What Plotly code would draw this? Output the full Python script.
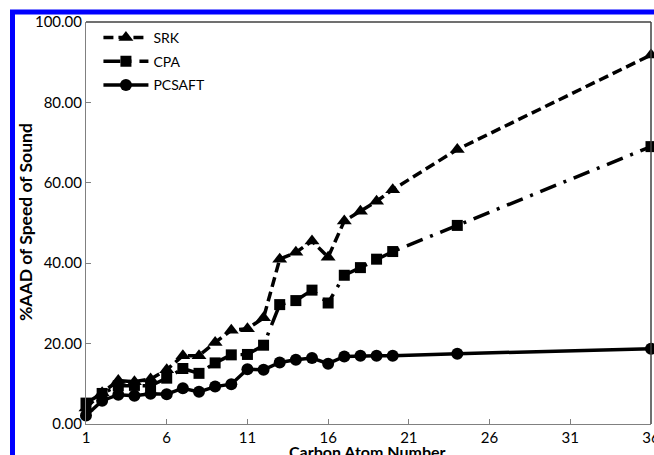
import plotly.graph_objects as go

carbon = [1, 2, 3, 4, 5, 6, 7, 8, 9, 10, 11, 12, 13, 14, 15, 16, 17, 18, 19, 20, 24, 36]
srk = [4.0, 7.8, 10.8, 10.5, 11.2, 13.5, 17.0, 17.0, 20.3, 23.3, 23.7, 26.4, 41.0, 42.7, 45.5, 41.5, 50.5, 52.9, 55.4, 58.3, 68.3, 91.8]
cpa = [5.2, 7.6, 9.5, 9.6, 9.5, 11.4, 13.8, 12.6, 15.2, 17.2, 17.3, 19.6, 29.7, 30.7, 33.3, 30.1, 37.0, 38.9, 41.0, 42.9, 49.4, 69.0]
pcsaft = [2.1, 5.8, 7.3, 7.0, 7.5, 7.4, 8.9, 8.0, 9.3, 9.9, 13.6, 13.5, 15.3, 16.0, 16.4, 15.0, 16.8, 17.0, 17.0, 17.0, 17.5, 18.7]

xticks = [1, 6, 11, 16, 21, 26, 31, 36]
yticks = [0, 20, 40, 60, 80, 100]

FONT = "Lato"

fig = go.Figure()
fig.add_trace(go.Scatter(x=carbon, y=srk, name="SRK", mode="lines+markers", legendgroup="a",
                         line=dict(color="black", width=3.5, dash="10px,5px"),
                         marker=dict(symbol="triangle-up", size=13, color="black"),
                         cliponaxis=False))
fig.add_trace(go.Scatter(x=carbon, y=cpa, name="CPA", mode="lines+markers", legendgroup="b",
                         line=dict(color="black", width=3.5, dash="17px,8px,3px,8px"),
                         marker=dict(symbol="square", size=11, color="black"),
                         cliponaxis=False))
fig.add_trace(go.Scatter(x=carbon, y=pcsaft, name="PCSAFT", mode="lines+markers", legendgroup="c",
                         line=dict(color="black", width=3.5),
                         marker=dict(symbol="circle", size=12, color="black"),
                         cliponaxis=False))

fig.update_layout(
    width=654, height=455,
    margin=dict(l=86, r=3, t=22, b=31),
    paper_bgcolor="white", plot_bgcolor="white",
    font=dict(family=FONT, size=15, color="black"),
    showlegend=True,
    legend=dict(x=0.022, y=1.0, xanchor="left", yanchor="top",
                bgcolor="rgba(0,0,0,0)", font=dict(size=14, family=FONT),
                itemwidth=45, tracegroupgap=2.5),
    xaxis=dict(range=[1, 36], tickvals=xticks, ticktext=[str(v) for v in xticks],
               showgrid=False, zeroline=False, showline=True, linecolor="#808080",
               linewidth=1, ticks="inside", ticklen=5, tickcolor="#808080",
               mirror=False, tickfont=dict(size=15), automargin=False,
               ticklabeloverflow="allow"),
    yaxis=dict(range=[0, 100], tickvals=yticks, ticktext=["%.2f" % v for v in yticks],
               showgrid=False, zeroline=False, showline=True, linecolor="#808080",
               linewidth=1, ticks="inside", ticklen=5, tickcolor="#808080",
               tickfont=dict(size=15), automargin=False, ticklabeloverflow="allow"),
    shapes=[
        dict(type="line", xref="paper", yref="paper", x0=0, x1=1, y0=1, y1=1,
             line=dict(color="#404040", width=1.5)),
        dict(type="line", xref="paper", yref="paper", x0=1, x1=1, y0=0, y1=1,
             line=dict(color="#404040", width=1.5)),
        dict(type="rect", xref="paper", yref="paper",
             x0=(12.5 - 86) / 565, x1=(680 - 86) / 565,
             y0=(424 - 480) / 402, y1=(424 - 12) / 402,
             line=dict(color="#0000FF", width=5), fillcolor="rgba(0,0,0,0)"),
    ],
    annotations=[
        dict(text="<b>Carbon Atom Number</b>", xref="paper", yref="paper",
             x=(367 - 86) / 565, y=(424 - 452) / 402, xanchor="center", yanchor="middle",
             showarrow=False, font=dict(size=16, family=FONT)),
        dict(text="<b>%AAD of Speed of Sound</b>", xref="paper", yref="paper",
             x=(26 - 86) / 565, y=(424 - 222) / 402, xanchor="center", yanchor="middle",
             textangle=-90, showarrow=False, font=dict(size=17.5, family=FONT)),
    ],
)

fig.write_html("out.html", config={"displayModeBar": False},
               post_script="document.body.style.margin='0';")
